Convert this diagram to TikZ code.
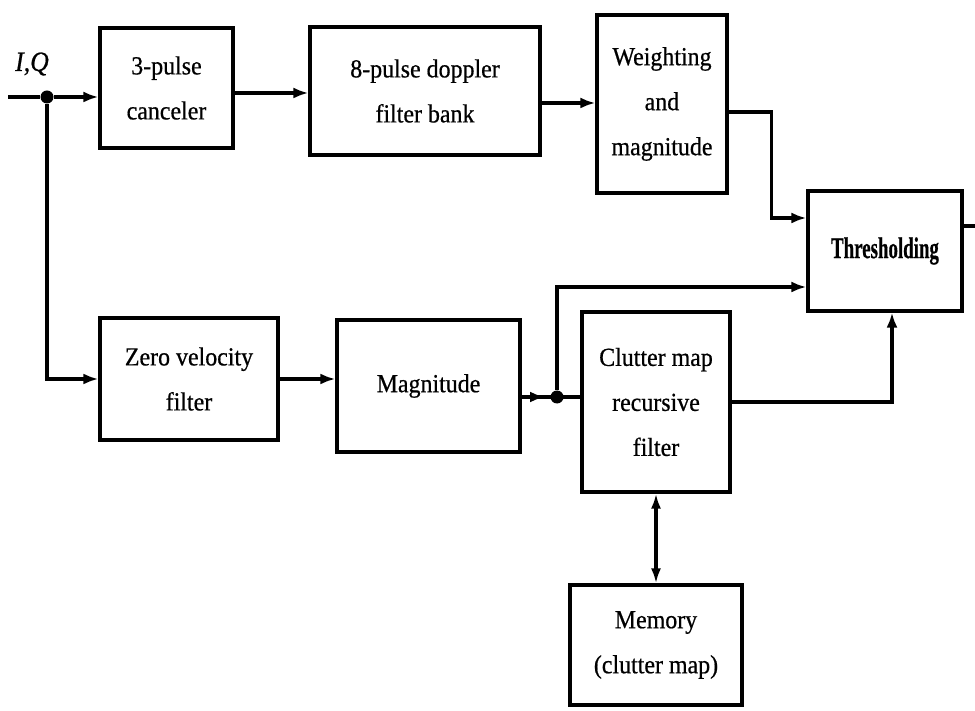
\documentclass[tikz,border=0pt]{standalone}
\usepackage{fontspec}
\setmainfont{Liberation Serif}[FakeStretch=0.92,FakeBold=0.6]
\newfontfamily\thrfont{Liberation Serif Bold}[FakeStretch=0.63,FakeBold=0.5]
\usetikzlibrary{arrows.meta,calc}
\begin{document}
\begin{tikzpicture}[x=1pt,y=-1pt,
  blk/.style={draw,line width=3.2pt,align=center,inner sep=0pt,
    font=\fontsize{26}{45}\selectfont},
  con/.style={line width=3.2pt},
  arr/.style={con,-{Latex[length=15pt,width=11pt]}},
  darr/.style={con,{Latex[length=15pt,width=10pt]}-{Latex[length=15pt,width=10pt]}},
  jdot/.style={circle,fill,inner sep=0pt,minimum size=13pt}]
\useasboundingbox (0,0) rectangle (975,711);
\node[blk,minimum width=133pt,minimum height=120pt] (can) at (166.5,88) {3-pulse\\canceler};
\node[blk,minimum width=230pt,minimum height=128pt] (dop) at (425,91) {8-pulse doppler\\filter bank};
\node[blk,minimum width=130pt,minimum height=178pt] (wgt) at (662,104) {Weighting\\and\\magnitude};
\node[blk,minimum width=154pt,minimum height=120pt,font=\fontsize{30}{32}\thrfont] (thr) at (885,251) {Thresholding};
\node[blk,minimum width=178pt,minimum height=122pt] (zvf) at (189,379) {Zero velocity\\filter};
\node[blk,minimum width=183pt,minimum height=132pt] (mag) at (428.5,386) {Magnitude};
\node[blk,minimum width=148pt,minimum height=180pt] (clu) at (656,402) {Clutter map\\recursive\\filter};
\node[blk,minimum width=172pt,minimum height=120pt] (mem) at (656,645) {Memory\\(clutter map)};
\node[font=\fontsize{28}{30}\selectfont\itshape] (iq) at (32,64) {I,Q};
\coordinate (in) at (8,97);
\node[jdot] (d1) at (47,97) {};
\node[jdot] (d2) at (557,397) {};
\coordinate (out) at (975,226);
% connectors
\draw[con] (in) -- (d1);
\draw[arr] (d1) -- (d1 -| can.west);
\draw[arr] (d1) |- (zvf.west);
\draw[arr] ([yshift=-5pt]can.east) -- ([yshift=-5pt]can.east -| dop.west);
\draw[arr] ([yshift=-12pt]dop.east) -- ([yshift=-12pt]dop.east -| wgt.west);
\draw[arr] ([yshift=-8pt]wgt.east) -- ++(43,0) |- ([yshift=33pt]thr.west);
\draw[arr] (zvf.east) -- (zvf.east -| mag.west);
\draw[con] ([yshift=-11pt]mag.east) -- (d2 -| clu.west);
\draw[arr] ([yshift=-11pt]mag.east) -- ([xshift=-12pt]d2.center);
\draw[arr] (d2) |- ([yshift=-36pt]thr.west);
\draw[arr] (clu.east) -| ([xshift=7pt]thr.south);
\draw[darr] (clu.south) -- (mem.north);
\draw[con] ([yshift=25pt]thr.east) -- (out);
\end{tikzpicture}
\end{document}
